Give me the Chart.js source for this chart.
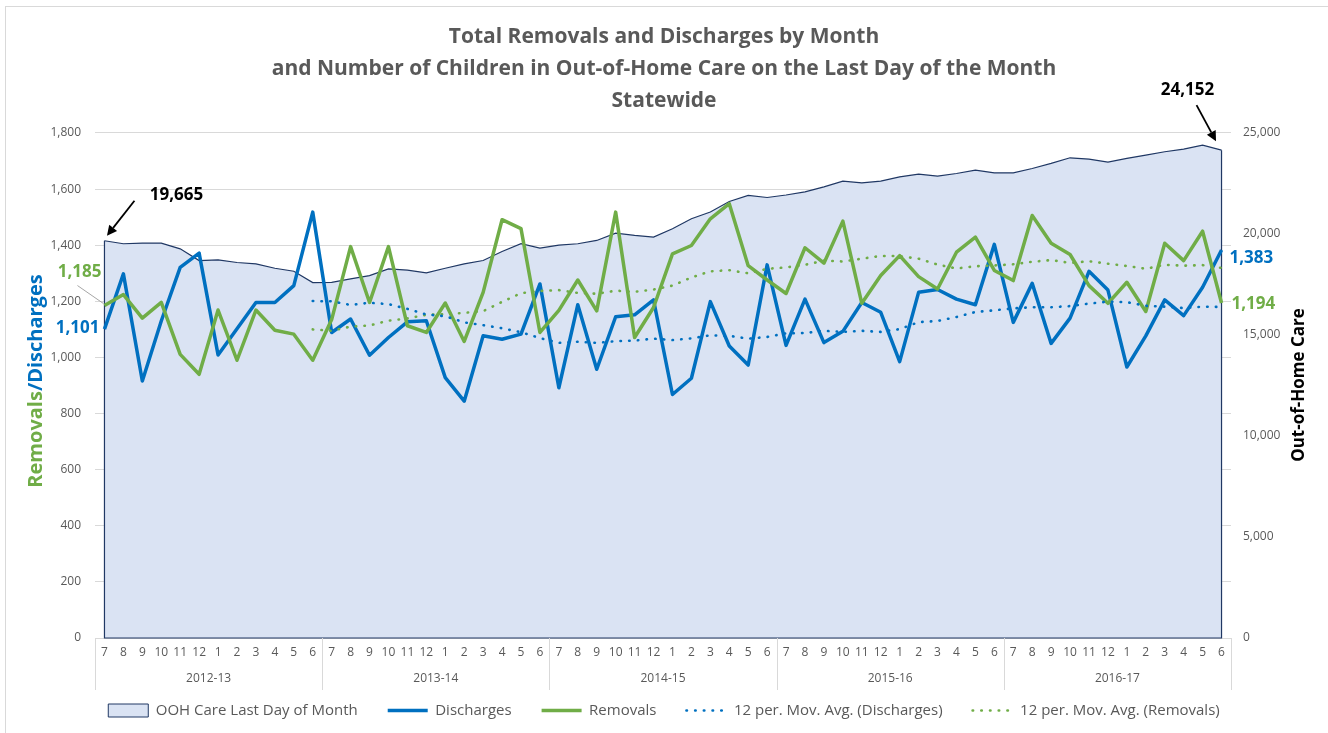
<!DOCTYPE html>
<html><head><meta charset="utf-8">
<script src="https://cdn.jsdelivr.net/npm/chart.js@4.4.1/dist/chart.umd.min.js"></script>
<style>
html,body{margin:0;padding:0;background:#fff;}
#wrap{position:relative;width:1328px;height:733px;overflow:hidden;}
#wrap canvas{display:block;}
#frame{position:absolute;left:5px;top:6px;width:1340px;height:740px;border:1px solid #d9d9d9;box-sizing:border-box;pointer-events:none;}
</style></head><body>
<div id="wrap"><canvas id="c"></canvas><div id="frame"></div></div>
<script>
const FONT = "'Open Sans', 'Noto Sans', sans-serif";

const fiscalYears = ['2012-13','2013-14','2014-15','2015-16','2016-17'];
const monthTicks = ['7','8','9','10','11','12','1','2','3','4','5','6'];

const oohCare = [19665,19518,19550,19550,19267,18687,18720,18588,18522,18305,18157,17594,
  17609,17776,17942,18274,18208,18076,18305,18523,18687,19135,19518,19300,
  19450,19516,19681,20044,19930,19847,20262,20758,21089,21609,21907,21808,
  21930,22083,22332,22614,22531,22614,22829,22961,22862,22995,23160,23028,
  23028,23244,23493,23773,23707,23558,23740,23906,24071,24204,24403,24152];

const discharges = [1101,1298,916,1130,1321,1372,1009,1102,1196,1196,1256,1518,
  1089,1137,1008,1071,1127,1131,928,844,1077,1065,1083,1262,
  892,1188,958,1145,1152,1205,868,926,1199,1041,973,1330,
  1043,1208,1053,1093,1196,1161,985,1232,1242,1208,1188,1403,
  1125,1264,1050,1140,1307,1240,966,1077,1205,1149,1250,1383];

const removals = [1185,1224,1140,1196,1011,940,1169,990,1169,1097,1083,990,
  1135,1395,1196,1395,1113,1089,1194,1057,1232,1491,1459,1089,
  1168,1276,1166,1518,1071,1178,1369,1399,1494,1548,1327,1276,
  1228,1391,1336,1486,1193,1292,1363,1288,1244,1375,1429,1310,
  1274,1506,1407,1367,1256,1193,1268,1164,1407,1345,1450,1194];

const movAvgDischarges = [null,null,null,null,null,null,null,null,null,null,null,1201,
  1200,1187,1195,1190,1173,1153,1147,1125,1115,1104,1090,1069,
  1052,1056,1052,1058,1060,1067,1062,1068,1079,1077,1067,1073,
  1086,1087,1095,1091,1095,1091,1101,1126,1130,1144,1162,1168,
  1175,1179,1179,1183,1192,1199,1197,1184,1181,1176,1181,1180];

const movAvgRemovals = [null,null,null,null,null,null,null,null,null,null,null,1100,
  1095,1110,1114,1131,1139,1152,1154,1159,1165,1198,1229,1237,
  1240,1230,1227,1238,1234,1242,1256,1285,1307,1311,1300,1316,
  1321,1330,1345,1342,1352,1362,1361,1352,1331,1317,1325,1328,
  1332,1341,1347,1337,1343,1334,1326,1316,1330,1327,1329,1319];

const monthLabels = fiscalYears.flatMap(() => monthTicks);

const BLUE = '#0070c0', GREEN = '#70ad47', GREY = '#595959';
const fmt = v => v.toLocaleString('en-US');

function arrow(ctx, x1, y1, x2, y2) {
  const a = Math.atan2(y2 - y1, x2 - x1), h = 10, w = 5;
  const bx = x2 - h * Math.cos(a), by = y2 - h * Math.sin(a);
  ctx.save();
  ctx.strokeStyle = '#000'; ctx.fillStyle = '#000'; ctx.lineWidth = 1.8;
  ctx.beginPath(); ctx.moveTo(x1, y1); ctx.lineTo(bx, by); ctx.stroke();
  ctx.beginPath();
  ctx.moveTo(x2, y2);
  ctx.lineTo(bx + w * Math.sin(a), by - w * Math.cos(a));
  ctx.lineTo(bx - w * Math.sin(a), by + w * Math.cos(a));
  ctx.closePath(); ctx.fill();
  ctx.restore();
}

const overlay = {
  id: 'overlay',
  afterDatasetDraw(chart, args) {
    if (args.index !== 0) return;
    const {ctx, scales: {x, y2}} = chart;
    const n = oohCare.length;
    const x0 = x.getPixelForValue(0), xn = x.getPixelForValue(n - 1);
    const base = y2.getPixelForValue(0);
    ctx.save();
    ctx.strokeStyle = '#203864'; ctx.lineWidth = 1.2;
    ctx.beginPath();
    ctx.moveTo(x0, y2.getPixelForValue(oohCare[0]));
    ctx.lineTo(x0, base); ctx.lineTo(xn, base);
    ctx.lineTo(xn, y2.getPixelForValue(oohCare[n - 1]));
    ctx.stroke();
    ctx.restore();
  },
  afterDraw(chart) {
    const {ctx, chartArea, scales: {x, y, y2}} = chart;
    const n = oohCare.length;
    const x0 = x.getPixelForValue(0), xn = x.getPixelForValue(n - 1);

    // group separators and fiscal-year labels on the category axis
    ctx.save();
    ctx.strokeStyle = '#d9d9d9'; ctx.lineWidth = 1;
    for (let g = 0; g <= fiscalYears.length; g++) {
      const px = Math.round(x.getPixelForValue(g * 12 - 0.5)) + 0.5;
      ctx.beginPath(); ctx.moveTo(px, chartArea.bottom); ctx.lineTo(px, chartArea.bottom + 52); ctx.stroke();
    }
    ctx.fillStyle = GREY; ctx.font = `12px ${FONT}`; ctx.textAlign = 'center'; ctx.textBaseline = 'middle';
    fiscalYears.forEach((fy, g) => {
      ctx.fillText(fy, x.getPixelForValue(g * 12 + 5.5), chartArea.bottom + 41);
    });
    ctx.restore();

    // axis titles
    ctx.save();
    ctx.translate(36, 381); ctx.rotate(-Math.PI / 2);
    ctx.font = `bold 20px ${FONT}`; ctx.textBaseline = 'middle'; ctx.textAlign = 'left';
    const t1 = 'Removals', t2 = '/Discharges';
    const w1 = ctx.measureText(t1).width, w2 = ctx.measureText(t2).width;
    ctx.fillStyle = GREEN; ctx.fillText(t1, -(w1 + w2) / 2, 0);
    ctx.fillStyle = BLUE; ctx.fillText(t2, -(w1 + w2) / 2 + w1, 0);
    ctx.restore();

    ctx.save();
    ctx.translate(1299, 385); ctx.rotate(-Math.PI / 2);
    ctx.font = `bold 17px ${FONT}`; ctx.textBaseline = 'middle'; ctx.textAlign = 'center';
    ctx.fillStyle = '#000'; ctx.fillText('Out-of-Home Care', 0, 0);
    ctx.restore();

    // data labels
    ctx.save();
    ctx.font = `bold 17px ${FONT}`; ctx.textBaseline = 'middle';
    const oy0 = y2.getPixelForValue(oohCare[0]);
    const oyn = y2.getPixelForValue(oohCare[n - 1]);
    arrow(ctx, x0 + 30, oy0 - 40, x0 + 2.5, oy0 - 5);
    arrow(ctx, xn - 25, oyn - 45, xn - 5.5, oyn - 9);
    ctx.fillStyle = '#000'; ctx.textAlign = 'center';
    ctx.fillText(fmt(oohCare[0]), x0 + 72, oy0 - 46);
    ctx.fillText(fmt(oohCare[n - 1]), xn - 34, oyn - 60);

    const dy0 = y.getPixelForValue(discharges[0]);
    const ry0 = y.getPixelForValue(removals[0]);
    const dyn = y.getPixelForValue(discharges[n - 1]);
    const ryn = y.getPixelForValue(removals[n - 1]);
    ctx.strokeStyle = '#a6a6a6'; ctx.lineWidth = 1;
    ctx.beginPath(); ctx.moveTo(x0 - 27, ry0 - 20); ctx.lineTo(x0 - 1, ry0 - 2); ctx.stroke();
    ctx.textAlign = 'right';
    ctx.fillStyle = GREEN; ctx.fillText(fmt(removals[0]), x0 - 3, ry0 - 33);
    ctx.fillStyle = BLUE; ctx.fillText(fmt(discharges[0]), x0 - 5, dy0 - 1);
    ctx.textAlign = 'left';
    ctx.fillStyle = BLUE; ctx.fillText(fmt(discharges[n - 1]), xn + 8, dyn + 8);
    ctx.fillStyle = GREEN; ctx.fillText(fmt(removals[n - 1]), xn + 10, ryn + 1);
    ctx.restore();
  }
};

new Chart(document.getElementById('c'), {
  type: 'line',
  data: {
    labels: monthLabels,
    datasets: [
      { label: 'OOH Care Last Day of Month', data: oohCare, yAxisID: 'y2', order: 3,
        fill: 'origin', backgroundColor: '#dae3f3', borderColor: '#203864', borderWidth: 1.2,
        pointRadius: 0, pointStyle: 'rect', tension: 0 },
      { label: 'Discharges', data: discharges, yAxisID: 'y', order: 2,
        borderColor: BLUE, backgroundColor: BLUE, borderWidth: 3.5, pointRadius: 0,
        pointStyle: 'line', fill: false, borderJoinStyle: 'round' },
      { label: 'Removals', data: removals, yAxisID: 'y', order: 1,
        borderColor: GREEN, backgroundColor: GREEN, borderWidth: 3.5, pointRadius: 0,
        pointStyle: 'line', fill: false, borderJoinStyle: 'round' },
      { label: '12 per. Mov. Avg. (Discharges)', data: movAvgDischarges, yAxisID: 'y', order: 0,
        borderColor: BLUE, backgroundColor: BLUE, borderWidth: 2.6, borderDash: [0.5, 8.2],
        borderCapStyle: 'round', pointRadius: 0, pointStyle: 'line', fill: false },
      { label: '12 per. Mov. Avg. (Removals)', data: movAvgRemovals, yAxisID: 'y', order: 0,
        borderColor: GREEN, backgroundColor: GREEN, borderWidth: 2.6, borderDash: [0.5, 8.2],
        borderCapStyle: 'round', pointRadius: 0, pointStyle: 'line', fill: false }
    ]
  },
  options: {
    responsive: true, maintainAspectRatio: false, animation: false, events: [],
    layout: { padding: { left: 0, right: 0, top: 0, bottom: 5 } },
    plugins: {
      tooltip: { enabled: false },
      title: {
        display: true, color: GREY,
        text: ['Total Removals and Discharges by Month',
               'and Number of Children in Out-of-Home Care on the Last Day of the Month',
               'Statewide'],
        font: { family: FONT, size: 21, weight: 'bold', lineHeight: 1.5238 },
        padding: { top: 21, bottom: 16 }
      },
      legend: {
        position: 'bottom',
        labels: {
          usePointStyle: true, pointStyleWidth: 40, boxHeight: 13, padding: 30,
          color: GREY, font: { family: FONT, size: 15 },
          sort: (a, b) => a.datasetIndex - b.datasetIndex,
          generateLabels: chart => {
            const items = Chart.defaults.plugins.legend.labels.generateLabels(chart);
            items.forEach(it => {
              const ds = chart.data.datasets[it.datasetIndex];
              it.strokeStyle = ds.borderColor;
              it.fillStyle = ds.backgroundColor;
              it.lineWidth = ds.datasetIndex === 0 ? 1 : ds.borderWidth;
              if (it.datasetIndex === 0) it.lineWidth = 1;
              if (ds.borderDash) { it.lineDash = ds.borderDash; it.lineCap = 'round'; }
              else { it.lineDash = []; it.lineCap = 'butt'; }
            });
            return items;
          }
        }
      }
    },
    scales: {
      x: {
        type: 'category', position: 'bottom', offset: true,
        grid: { display: false, drawTicks: false, tickLength: 0 },
        border: { display: true, color: '#d9d9d9' },
        ticks: { autoSkip: false, maxRotation: 0, minRotation: 0, padding: 7, color: GREY,
                 font: { family: FONT, size: 12 } },
        afterFit: s => { s.height = 35; }
      },
      y: {
        position: 'left', min: 0, max: 1800,
        grid: { color: '#d9d9d9', lineWidth: 1, drawTicks: false, tickLength: 0 },
        border: { display: false },
        ticks: { stepSize: 200, padding: 14, color: GREY, font: { family: FONT, size: 12 },
                 callback: v => fmt(v) },
        afterFit: s => { s.width = 95; }
      },
      y2: {
        position: 'right', min: 0, max: 25000,
        grid: { display: false, drawOnChartArea: false, drawTicks: false, tickLength: 0 },
        border: { display: false },
        ticks: { stepSize: 5000, padding: 12, color: GREY, font: { family: FONT, size: 12 },
                 callback: v => fmt(v) },
        afterFit: s => { s.width = 97; }
      }
    }
  },
  plugins: [overlay]
});
</script>
</body></html>
